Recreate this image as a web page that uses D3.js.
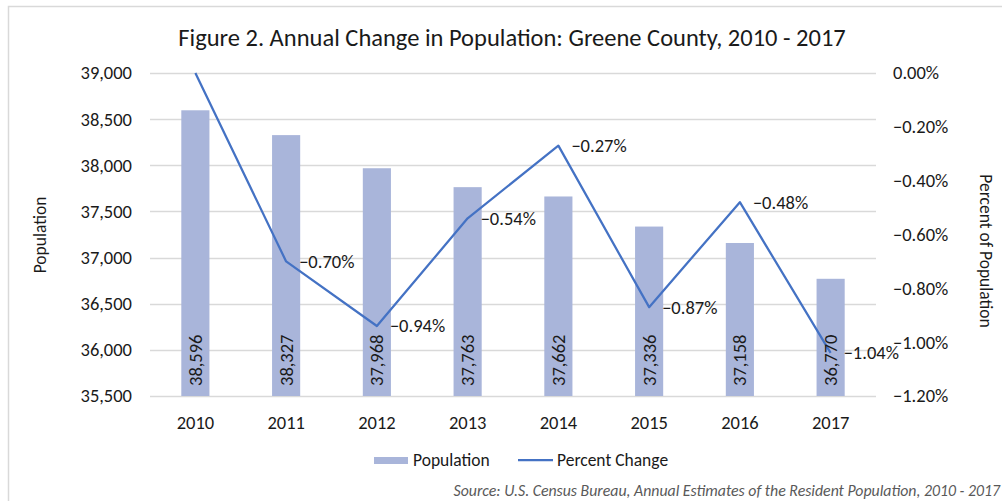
<!DOCTYPE html>
<html>
<head>
<meta charset="utf-8">
<script src="https://cdn.jsdelivr.net/npm/d3@7"></script>
<style>
  html, body { margin: 0; padding: 0; background: #fff; }
  svg { display: block; }
  text { font-family: Carlito, Calibri, Lato, "Open Sans", sans-serif; fill: #1a1a1a; }
</style>
</head>
<body>
<svg id="chart" width="1002" height="501"></svg>
<script>
// ---- data ----
const years = ["2010", "2011", "2012", "2013", "2014", "2015", "2016", "2017"];
const population = [38596, 38327, 37968, 37763, 37662, 37336, 37158, 36770];
const percentChange = [0.00, -0.70, -0.94, -0.54, -0.27, -0.87, -0.48, -1.04];
const popTicks = [35500, 36000, 36500, 37000, 37500, 38000, 38500, 39000];
const pctTicks = [0.00, -0.20, -0.40, -0.60, -0.80, -1.00, -1.20];
const titleText = "Figure 2. Annual Change in Population: Greene County, 2010 - 2017";
const sourceText = "Source: U.S. Census Bureau, Annual Estimates of the Resident Population, 2010 - 2017";
const seriesNames = ["Population", "Percent Change"];

// ---- layout ----
const svg = d3.select("#chart");
const plot = { left: 150, right: 876, top: 73, bottom: 396 };
const barColor = "#a9b5da";
const lineColor = "#4472c4";
const gridColor = "#d9d9d9";
const fontFam = "Carlito, Calibri, Lato, 'Open Sans', sans-serif";
const numSize = 18.5;
const txtSize = 17.5;

// outer chart border (extends beyond the picture at right and bottom)
svg.append("rect")
  .attr("x", 8.5).attr("y", 6.5).attr("width", 1100).attr("height", 600)
  .attr("fill", "none").attr("stroke", gridColor).attr("stroke-width", 1.5);

const x = d3.scaleBand().domain(years)
  .range([plot.left, plot.right]).paddingInner(0.69).paddingOuter(0.345);
const yPop = d3.scaleLinear().domain([35500, 39000]).range([plot.bottom, plot.top]);
const yPct = d3.scaleLinear().domain([-1.2, 0]).range([plot.bottom, plot.top]);

// gridlines
svg.append("g").selectAll("line").data(popTicks).join("line")
  .attr("x1", plot.left).attr("x2", plot.right)
  .attr("y1", d => Math.round(yPop(d)) + 0.5).attr("y2", d => Math.round(yPop(d)) + 0.5)
  .attr("stroke", gridColor).attr("stroke-width", 1.3);

// left axis
const leftAxis = svg.append("g").attr("transform", `translate(${plot.left - 18},0)`)
  .call(d3.axisLeft(yPop).tickValues(popTicks).tickFormat(d3.format(",")).tickSize(0).tickPadding(0));
leftAxis.select(".domain").remove();
leftAxis.selectAll("text").attr("font-size", numSize).style("fill", "#1a1a1a").style("font-family", fontFam);

// right axis
const rightAxis = svg.append("g").attr("transform", `translate(${plot.right + 17},0)`)
  .call(d3.axisRight(yPct).tickValues(pctTicks).tickFormat(d => d3.format(".2f")(d) + "%").tickSize(0).tickPadding(0));
rightAxis.select(".domain").remove();
rightAxis.selectAll("text").attr("font-size", numSize).style("fill", "#1a1a1a").style("font-family", fontFam);

// bottom axis
const bottomAxis = svg.append("g").attr("transform", `translate(0,${plot.bottom + 20})`)
  .call(d3.axisBottom(x).tickSize(0).tickPadding(0));
bottomAxis.select(".domain").remove();
bottomAxis.selectAll("text").attr("font-size", numSize).attr("dy", "0.72em")
  .style("fill", "#1a1a1a").style("font-family", fontFam);

// bars
const data = years.map((yr, i) => ({ yr, pop: population[i], pct: percentChange[i] }));
svg.append("g").selectAll("rect").data(data).join("rect")
  .attr("x", d => x(d.yr)).attr("width", x.bandwidth())
  .attr("y", d => yPop(d.pop)).attr("height", d => yPop(35500) - yPop(d.pop))
  .attr("fill", barColor);

// line
const line = d3.line().x(d => x(d.yr) + x.bandwidth() / 2).y(d => yPct(d.pct));
svg.append("path").datum(data).attr("d", line)
  .attr("fill", "none").attr("stroke", lineColor).attr("stroke-width", 2.25)
  .attr("stroke-linejoin", "round");

// bar labels (rotated)
svg.append("g").selectAll("text").data(data).join("text")
  .attr("transform", d => `translate(${x(d.yr) + x.bandwidth() / 2},${plot.bottom - 10}) rotate(-90)`)
  .attr("dy", "0.35em").attr("text-anchor", "start").attr("font-size", numSize)
  .text(d => d3.format(",")(d.pop));

// percent labels
svg.append("g").selectAll("text").data(data.filter(d => d.pct !== 0)).join("text")
  .attr("x", d => x(d.yr) + x.bandwidth() / 2 + 13).attr("y", d => yPct(d.pct))
  .attr("dy", "0.35em").attr("font-size", numSize)
  .text(d => d3.format(".2f")(d.pct) + "%");

// title
svg.append("text").attr("x", 512).attr("y", 46).attr("text-anchor", "middle")
  .attr("font-size", 24.5).text(titleText);

// axis titles
svg.append("text").attr("transform", `translate(40,235) rotate(-90)`)
  .attr("text-anchor", "middle").attr("dy", "0.35em").attr("font-size", txtSize).text("Population");
svg.append("text").attr("transform", `translate(986,251) rotate(90)`)
  .attr("text-anchor", "middle").attr("dy", "0.35em").attr("font-size", txtSize).text("Percent of Population");

// legend
const lg = svg.append("g");
lg.append("rect").attr("x", 374).attr("y", 457).attr("width", 34).attr("height", 7).attr("fill", barColor);
lg.append("text").attr("x", 413).attr("y", 460).attr("dy", "0.35em").attr("font-size", txtSize).text(seriesNames[0]);
lg.append("line").attr("x1", 518).attr("x2", 553).attr("y1", 460).attr("y2", 460)
  .attr("stroke", lineColor).attr("stroke-width", 2.25);
lg.append("text").attr("x", 557).attr("y", 460).attr("dy", "0.35em").attr("font-size", txtSize).text(seriesNames[1]);

// source
svg.append("text").attr("x", 1000).attr("y", 496).attr("text-anchor", "end")
  .attr("font-size", 15.8).attr("font-style", "italic").style("fill", "#595959").text(sourceText);
</script>
</body>
</html>
